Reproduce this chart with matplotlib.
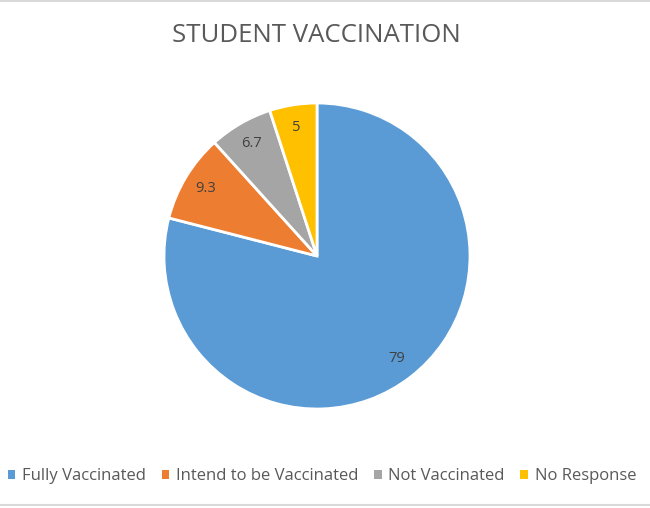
import matplotlib
matplotlib.use("Agg")
import matplotlib.pyplot as plt
from matplotlib.patches import Patch

categories = ["Fully Vaccinated", "Intend to be Vaccinated", "Not Vaccinated", "No Response"]
values = [79, 9.3, 6.7, 5]
value_labels = ["79", "9.3", "6.7", "5"]
colors = ["#5B9BD5", "#ED7D31", "#A5A5A5", "#FFC000"]

plt.rcParams['font.family'] = ['Open Sans', 'DejaVu Sans']

fig = plt.figure(figsize=(6.5, 5.08), dpi=100)
fig.patch.set_facecolor("white")

# pie centred at about (317, 256) px, radius 152 px
ax = fig.add_axes([(317 - 153) / 650, (508 - 256 - 153) / 508, 306 / 650, 306 / 508])
wedges, texts = ax.pie(values, colors=colors, startangle=90, counterclock=False,
                       labels=value_labels, labeldistance=0.85,
                       wedgeprops=dict(edgecolor="white", linewidth=2))
for t in texts:
    t.set_ha("center")
    t.set_va("center")
    t.set_fontsize(10.5)
    t.set_color("#404040")
ax.set_xlim(-1, 1)
ax.set_ylim(-1, 1)
ax.set_aspect("equal")

fig.text(316 / 650, 1 - 35 / 508, "STUDENT VACCINATION", ha="center", va="center",
         fontsize=18.5, color="#595959")

handles = [Patch(facecolor=c, edgecolor="none") for c in colors]
fig.legend(handles, categories, loc="center", bbox_to_anchor=(322 / 650, 1 - 476 / 508),
           ncol=4, frameon=False, fontsize=12, handlelength=0.45, handleheight=0.45,
           handletextpad=0.4, columnspacing=0.95, labelcolor="#595959")

# light frame lines at top and bottom
fig.add_artist(plt.Line2D([0, 1], [0.999, 0.999], color="#D9D9D9", linewidth=1.5))
fig.add_artist(plt.Line2D([0, 1], [3 / 508, 3 / 508], color="#D9D9D9", linewidth=1.5))

fig.savefig("out.png", dpi=100, facecolor="white")
